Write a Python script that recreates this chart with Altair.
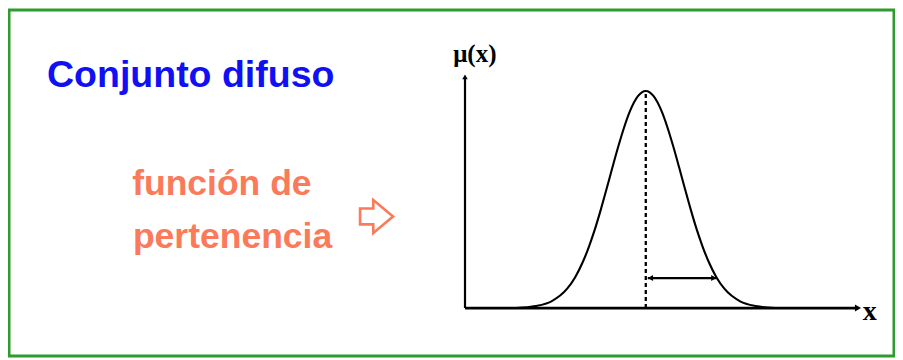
import altair as alt
import pandas as pd

# membership curve (x in axis units, mu in 0..1)
curve_x = [1.3, 1.8, 2.2, 2.6, 2.8, 3.0, 3.15, 3.3, 3.45, 3.6, 3.75, 3.9, 4.05, 4.2, 4.4, 4.5, 4.6,
           4.7, 4.8, 5.0, 5.15, 5.3, 5.45, 5.6, 5.75, 5.9, 6.05, 6.2, 6.4, 6.6, 7.0, 7.4, 7.9]
curve_mu = [0.0, 0.009, 0.031, 0.089, 0.141, 0.213, 0.281, 0.360, 0.450, 0.547, 0.647, 0.744, 0.833,
            0.908, 0.976, 0.994, 1.0, 0.994, 0.976, 0.908, 0.833, 0.744, 0.647, 0.547, 0.450, 0.360,
            0.281, 0.213, 0.141, 0.089, 0.031, 0.009, 0.0]

peak_x = 4.6
axis_x_end = 10.0
axis_y_end = 1.065
spread_y = 0.138
spread_x = [4.65, 6.4]

title_text = "Conjunto difuso"
label_lines = ["función de", "pertenencia"]
ylabel = "μ(x)"
xlabel = "x"

X = alt.Scale(domain=[-11.603, 10.916], nice=False, zero=False)
Y = alt.Scale(domain=[-0.221, 1.373], nice=False, zero=False)


def xy():
    return dict(x=alt.X("x:Q", scale=X, axis=None), y=alt.Y("y:Q", scale=Y, axis=None))


# axes lines
xaxis_df = pd.DataFrame({"x": [0.0], "x2": [axis_x_end], "y": [0.0]})
xaxis = alt.Chart(xaxis_df).mark_rule(color="black", strokeWidth=2.8).encode(
    x=alt.X("x:Q", scale=X, axis=None), x2="x2:Q", y=alt.Y("y:Q", scale=Y, axis=None))
yaxis_df = pd.DataFrame({"x": [0.0], "y": [0.0], "y2": [axis_y_end]})
yaxis = alt.Chart(yaxis_df).mark_rule(color="black", strokeWidth=2.2).encode(
    x=alt.X("x:Q", scale=X, axis=None), y=alt.Y("y:Q", scale=Y, axis=None), y2="y2:Q")

xhead = alt.Chart(pd.DataFrame({"x": [axis_x_end], "y": [0.0]})).mark_point(
    shape="triangle-right", filled=True, color="black", size=50, opacity=1).encode(**xy())
yhead = alt.Chart(pd.DataFrame({"x": [0.0], "y": [axis_y_end]})).mark_point(
    shape="triangle-up", filled=True, color="black", size=30, opacity=1).encode(**xy())

curve = alt.Chart(pd.DataFrame({"x": curve_x, "y": curve_mu})).mark_line(
    color="black", strokeWidth=2.1, interpolate="monotone").encode(**xy())

dash_df = pd.DataFrame({"x": [peak_x], "y": [0.0], "y2": [1.0]})
dashed = alt.Chart(dash_df).mark_rule(color="black", strokeWidth=2.3, strokeDash=[4, 3]).encode(
    x=alt.X("x:Q", scale=X, axis=None), y=alt.Y("y:Q", scale=Y, axis=None), y2="y2:Q")

spread_df = pd.DataFrame({"x": [spread_x[0]], "x2": [spread_x[1]], "y": [spread_y]})
spread = alt.Chart(spread_df).mark_rule(color="black", strokeWidth=2.2).encode(
    x=alt.X("x:Q", scale=X, axis=None), x2="x2:Q", y=alt.Y("y:Q", scale=Y, axis=None))
lhead = alt.Chart(pd.DataFrame({"x": [spread_x[0] + 0.07], "y": [spread_y]})).mark_point(
    shape="triangle-left", filled=True, color="black", size=35, opacity=1).encode(**xy())
rhead = alt.Chart(pd.DataFrame({"x": [spread_x[1] - 0.07], "y": [spread_y]})).mark_point(
    shape="triangle-right", filled=True, color="black", size=35, opacity=1).encode(**xy())

ylab = alt.Chart(pd.DataFrame({"x": [0.25], "y": [1.134], "t": [ylabel]})).mark_text(
    font="Liberation Serif", fontSize=25, fontWeight="bold", color="black",
    align="center", baseline="alphabetic").encode(text="t:N", **xy())
xlab = alt.Chart(pd.DataFrame({"x": [10.3], "y": [-0.016], "t": [xlabel]})).mark_text(
    font="Liberation Serif", fontSize=28, fontWeight="bold", color="black",
    align="center", baseline="middle").encode(text="t:N", **xy())

title = alt.Chart(pd.DataFrame({"x": [-10.636], "y": [1.018], "t": [title_text]})).mark_text(
    font="Liberation Sans", fontSize=37.5, fontWeight="bold", color="#1010f4",
    align="left", baseline="alphabetic").encode(text="t:N", **xy())

lab = alt.Chart(pd.DataFrame({"x": [-8.47, -8.45], "y": [0.521, 0.276], "t": label_lines})).mark_text(
    font="Liberation Sans", fontSize=35.5, fontWeight="bold", color="#fa7a5a",
    align="left", baseline="alphabetic").encode(text="t:N", **xy())

# outlined block arrow symbol
arrow_shape = "M -1 -0.48 L -0.2 -0.48 L -0.2 -1 L 1 0 L -0.2 1 L -0.2 0.48 L -1 0.48 Z"
arrow = alt.Chart(pd.DataFrame({"x": [-2.25], "y": [0.422]})).mark_point(
    shape=arrow_shape, filled=False, color="#fa7a5a", strokeWidth=2.6, size=1089, opacity=1
).encode(**xy())

chart = alt.layer(xaxis, yaxis, curve, dashed, spread, xhead, yhead, lhead, rhead,
                  ylab, xlab, title, lab, arrow).properties(
    width=885, height=346,
    padding={"left": 1, "top": 2, "right": 1, "bottom": 2},
    autosize=alt.AutoSizeParams(type="none"),
    background="white",
).configure_view(stroke="#2d9b2d", strokeWidth=3)

chart.save("out.html", embed_options={"renderer": "svg", "actions": False})
